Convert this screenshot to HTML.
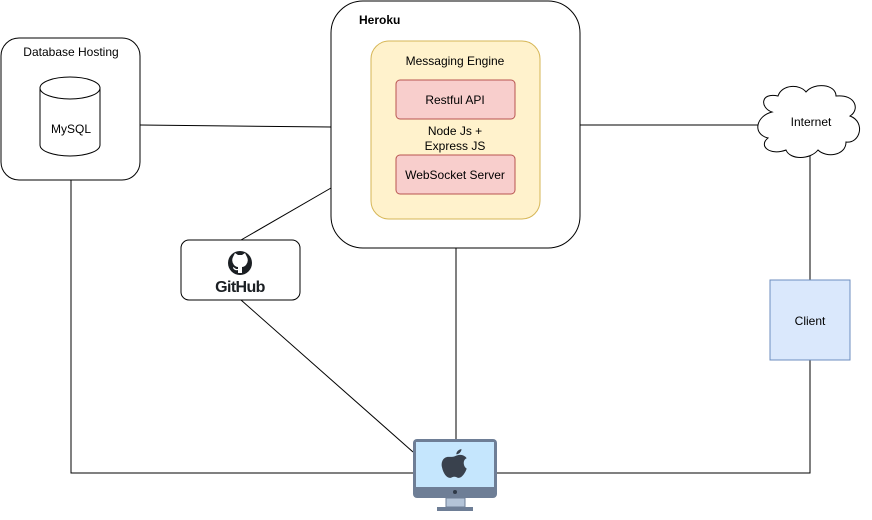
<!DOCTYPE html>
<html><head><meta charset="utf-8"><style>body{margin:0;background:#fff}svg{display:block}</style></head><body>
<svg width="872" height="520" viewBox="0 0 872 520" xmlns="http://www.w3.org/2000/svg" font-family="Liberation Sans, sans-serif" font-size="12" fill="none" stroke="#000">
<g stroke="#000" stroke-width="1">
<line x1="140" y1="125" x2="331" y2="127"/>
<line x1="580" y1="125" x2="762" y2="125"/>
<line x1="241" y1="240" x2="331" y2="188"/>
<line x1="241" y1="300" x2="413" y2="452"/>
<line x1="456" y1="248" x2="456" y2="439"/>
<polyline points="71,180 71,473 413,473"/>
<polyline points="497,473 810,473 810,360"/>
<line x1="810" y1="155" x2="810" y2="280"/>
</g>
<rect x="1" y="38" width="139" height="142" rx="18" fill="#fff"/>
<text x="71" y="56" text-anchor="middle" fill="#000" stroke="none">Database Hosting</text>
<path d="M40 88 A30 11 0 0 1 100 88 L100 145 A30 11 0 0 1 40 145 Z" fill="#fff"/>
<path d="M40 88 A30 11 0 0 0 100 88"/>
<text x="71" y="133" text-anchor="middle" fill="#000" stroke="none">MySQL</text>
<rect x="331" y="1" width="249" height="247" rx="32" fill="#fff"/>
<text x="359" y="24" font-weight="bold" fill="#000" stroke="none">Heroku</text>
<rect x="371" y="41" width="169" height="178" rx="18" fill="#fff2cc" stroke="#d6b656"/>
<text x="455" y="65" text-anchor="middle" fill="#000" stroke="none">Messaging Engine</text>
<rect x="396" y="80" width="119" height="39" rx="4" fill="#f8cecc" stroke="#b85450"/>
<text x="455" y="104" text-anchor="middle" fill="#000" stroke="none">Restful API</text>
<text x="455" y="135" text-anchor="middle" fill="#000" stroke="none">Node Js +</text>
<text x="455" y="150" text-anchor="middle" fill="#000" stroke="none">Express JS</text>
<rect x="396" y="155" width="119" height="39" rx="4" fill="#f8cecc" stroke="#b85450"/>
<text x="455" y="179" text-anchor="middle" fill="#000" stroke="none">WebSocket Server</text>
<rect x="181" y="240" width="119" height="60" rx="8" fill="#fff"/>
<circle cx="240" cy="263" r="12" fill="#1b1f23" stroke="none"/>
<path d="M233 257 l2 -4 l3 2 h4 l3 -2 l2 4 q2 4 -1 8 q-2 2 -4 2 v6 h-4 v-3 q-3 1 -5 -2 v-1 q2 1 3 2 h2 v-2 q-2 0 -4 -2 q-3 -4 -1 -8z" fill="#fff" stroke="none"/>
<text x="240" y="292" text-anchor="middle" font-weight="bold" font-size="16" letter-spacing="-0.6" fill="#1b1f23" stroke="none">GitHub</text>
<path d="M772 112 C760 108 760 92 778 96 C782 84 800 84 806 92 C814 82 836 84 836 96 C856 94 860 110 850 116 C866 122 860 144 846 142 C846 156 826 158 818 150 C810 160 790 160 786 150 C770 156 758 146 768 138 C752 134 756 116 772 112 Z" fill="#fff"/>
<text x="811" y="126" text-anchor="middle" fill="#000" stroke="none">Internet</text>
<rect x="770" y="280" width="80" height="80" fill="#dae8fc" stroke="#6c8ebf"/>
<text x="810" y="325" text-anchor="middle" fill="#000" stroke="none">Client</text>
<rect x="413" y="439" width="84" height="59" rx="4" fill="#6e7e96" stroke="none"/>
<rect x="416" y="442" width="78" height="45" fill="#c5e6fd" stroke="none"/>
<circle cx="455" cy="492" r="2" fill="#2f3a48" stroke="none"/>
<rect x="446" y="498" width="19" height="9" fill="#b4c4d8" stroke="#6e7e96"/>
<rect x="437" y="507" width="36" height="4" fill="#6e7e96" stroke="none"/>
<g transform="translate(455 466) scale(1.3) translate(-454 -463)">
<path d="M449 456 c-4 0 -6 4 -5 8 c1 5 4 9 7 8 c2 -1 3 -1 5 0 c3 1 6 -4 7 -7 c-3 -2 -3 -7 0 -8 c-2 -3 -6 -3 -8 -2 c-2 1 -3 1 -6 1z M455 454 c0 -2 2 -4 4 -4 c0 2 -2 4 -4 4z" fill="#39414d" stroke="none"/>
</g>
</svg>
</body></html>
